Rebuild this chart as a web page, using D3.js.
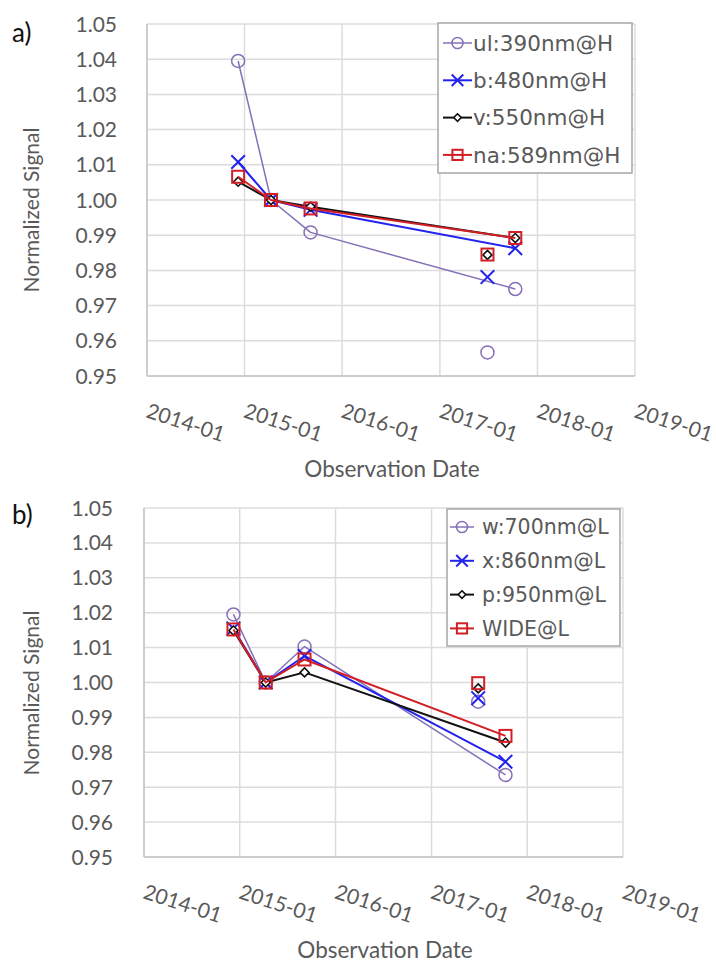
<!DOCTYPE html>
<html>
<head>
<meta charset="utf-8">
<script src="https://cdn.jsdelivr.net/npm/d3@7"></script>
<style>
  body { margin: 0; background: #fff; }
  svg { display: block; }
  text { font-family: Lato, "Open Sans", sans-serif; fill: #595959; }
  .legend text { font-family: "DejaVu Sans", sans-serif; }
</style>
</head>
<body>
<svg class="graphic"></svg>
<script>
// observation dates joined by the lines, and the one date shown as loose markers
var lineDates = ["2014-12-08", "2015-04-10", "2015-09-05", "2017-10-10"];
var looseDate = "2017-06-28";

var yTicks = [0.95, 0.96, 0.97, 0.98, 0.99, 1.00, 1.01, 1.02, 1.03, 1.04, 1.05];
var xTicks = ["2014-01", "2015-01", "2016-01", "2017-01", "2018-01", "2019-01"];

// panel a) - H filters
var namesA = ["ul:390nm@H", "b:480nm@H", "v:550nm@H", "na:589nm@H"];
var ulH = [1.0395, 1.0000, 0.9908, 0.9747];
var bH  = [1.0108, 1.0000, 0.9972, 0.9863];
var vH  = [1.0052, 1.0000, 0.9981, 0.9892];
var naH = [1.0066, 1.0000, 0.9976, 0.9892];
var looseA = [0.9567, 0.9781, 0.9844, 0.9845];

// panel b) - L filters
var namesB = ["w:700nm@L", "x:860nm@L", "p:950nm@L", "WIDE@L"];
var wL    = [1.0195, 1.0000, 1.0103, 0.9735];
var xL    = [1.0155, 1.0000, 1.0076, 0.9773];
var pL    = [1.0149, 1.0000, 1.0029, 0.9828];
var wideL = [1.0152, 1.0000, 1.0066, 0.9847];
var looseB = [0.9945, 0.9955, 0.9983, 0.9998];

var colours = ["#8470b8", "#2323ee", "#111111", "#d21f26"],
    markers = ["circle", "cross", "diamond", "square"],
    widths = [1.5, 2, 2, 2];

var parseDate = d3.timeParse("%Y-%m-%d"),
    parseMonth = d3.timeParse("%Y-%m"),
    formatMonth = d3.timeFormat("%Y-%m");

var panels = [
  { label: "a)", names: namesA, series: [ulH, bH, vH, naH], loose: looseA,
    left: 147, right: 635, top: 24, bottom: 376, tickX: 117, titleY: 210, xTitleY: 477, xTitleX: 392, labelY: 42,
    legend: { x: 438, y: 23, w: 194, h: 150, first: 43, step: 37.3, lx1: 443, lx2: 472, tx: 473, size: 21.5 } },
  { label: "b)", names: namesB, series: [wL, xL, pL, wideL], loose: looseB,
    left: 144, right: 623, top: 508, bottom: 857, tickX: 113, titleY: 693, xTitleY: 958, xTitleX: 385, labelY: 524,
    legend: { x: 447, y: 509, w: 173, h: 137, first: 527, step: 33.8, lx1: 450, lx2: 474, tx: 482, size: 20.5 } }
];

var svg = d3.select(".graphic")
    .attr("width", 716)
    .attr("height", 963);

function drawMarker(g, type, colour, size) {
    var s = size || 1;
    if (type === "circle") {
        g.append("circle").attr("r", 6.5 * s)
            .attr("fill", "none").attr("stroke", colour).attr("stroke-width", 1.5);
    } else if (type === "cross") {
        var c = 6.8 * s;
        g.append("path").attr("d", "M" + (-c) + "," + (-c) + "L" + c + "," + c + "M" + (-c) + "," + c + "L" + c + "," + (-c))
            .attr("stroke", colour).attr("stroke-width", 2).attr("fill", "none");
    } else if (type === "diamond") {
        var d = 4.5 * s;
        g.append("path").attr("d", "M0," + (-d) + "L" + d + ",0L0," + d + "L" + (-d) + ",0Z")
            .attr("fill", "#fff").attr("stroke", colour).attr("stroke-width", 1.6);
    } else {
        var q = 6 * s;
        g.append("rect").attr("x", -q).attr("y", -q).attr("width", q * 2).attr("height", q * 2)
            .attr("fill", "none").attr("stroke", colour).attr("stroke-width", 2);
    }
}

function drawPanel(p) {
    var x = d3.scaleTime()
        .domain([parseMonth(xTicks[0]), parseMonth(xTicks[xTicks.length - 1])])
        .range([p.left, p.right]);
    var y = d3.scaleLinear()
        .domain([yTicks[0], yTicks[yTicks.length - 1]])
        .range([p.bottom, p.top]);

    var g = svg.append("g");

    // grid lines
    g.selectAll(".hgrid").data(yTicks).enter().append("line")
        .attr("x1", p.left).attr("x2", p.right)
        .attr("y1", function(d) { return y(d); }).attr("y2", function(d) { return y(d); })
        .attr("stroke", "#dcdcdc").attr("stroke-width", 1.5);
    g.selectAll(".vgrid").data(xTicks).enter().append("line")
        .attr("x1", function(d) { return x(parseMonth(d)); }).attr("x2", function(d) { return x(parseMonth(d)); })
        .attr("y1", p.top).attr("y2", p.bottom)
        .attr("stroke", "#dcdcdc").attr("stroke-width", 1.5);

    // axis lines
    g.append("line").attr("x1", p.left).attr("x2", p.left).attr("y1", p.top).attr("y2", p.bottom)
        .attr("stroke", "#c4c4c4").attr("stroke-width", 1.5);
    g.append("line").attr("x1", p.left).attr("x2", p.right).attr("y1", p.bottom).attr("y2", p.bottom)
        .attr("stroke", "#c4c4c4").attr("stroke-width", 1.5);

    // tick labels
    g.selectAll(".ylab").data(yTicks).enter().append("text")
        .attr("x", p.tickX).attr("y", function(d) { return y(d); })
        .attr("dy", "0.36em").attr("text-anchor", "end")
        .style("font-size", "21px")
        .text(function(d) { return d.toFixed(2); });
    g.selectAll(".xlab").data(xTicks).enter().append("text")
        .attr("text-anchor", "start")
        .attr("transform", function(d) { return "translate(" + (x(parseMonth(d)) - 2) + "," + (p.bottom + 41) + ") rotate(18)"; })
        .style("font-size", "21px")
        .text(function(d) { return formatMonth(parseMonth(d)); });

    // titles
    g.append("text").attr("x", p.xTitleX).attr("y", p.xTitleY).attr("text-anchor", "middle")
        .style("font-size", "22.5px").text("Observation Date");
    g.append("text").attr("transform", "translate(39," + p.titleY + ") rotate(-90)")
        .attr("text-anchor", "middle").style("font-size", "21px").text("Normalized Signal");
    g.append("text").attr("x", 12).attr("y", p.labelY)
        .style("font-size", "26px").style("fill", "#111").text(p.label);

    // series
    var line = d3.line()
        .x(function(d, i) { return x(parseDate(lineDates[i])); })
        .y(function(d) { return y(d); });

    p.series.forEach(function(values, s) {
        g.append("path").datum(values)
            .attr("d", line)
            .attr("fill", "none")
            .attr("stroke", colours[s])
            .attr("stroke-width", widths[s])
            .attr("stroke-linejoin", "round");
        values.forEach(function(v, i) {
            var m = g.append("g").attr("transform", "translate(" + x(parseDate(lineDates[i])) + "," + y(v) + ")");
            drawMarker(m, markers[s], colours[s]);
        });
        var lm = g.append("g").attr("transform", "translate(" + x(parseDate(looseDate)) + "," + y(p.loose[s]) + ")");
        drawMarker(lm, markers[s], colours[s]);
    });

    // legend
    var L = p.legend;
    var lg = g.append("g").attr("class", "legend");
    lg.append("rect").attr("x", L.x).attr("y", L.y).attr("width", L.w).attr("height", L.h)
        .attr("fill", "#fff").attr("stroke", "#a6a6a6").attr("stroke-width", 1.5);
    var entry = lg.selectAll(".entry").data(p.names).enter().append("g")
        .attr("transform", function(d, i) { return "translate(0," + (L.first + i * L.step) + ")"; });
    entry.append("line").attr("x1", L.lx1).attr("x2", L.lx2)
        .attr("stroke", function(d, i) { return colours[i]; })
        .attr("stroke-width", function(d, i) { return widths[i]; });
    entry.each(function(d, i) {
        var m = d3.select(this).append("g").attr("transform", "translate(" + ((L.lx1 + L.lx2) / 2) + ",0)");
        drawMarker(m, markers[i], colours[i], 0.85);
    });
    entry.append("text").attr("x", L.tx).attr("dy", "0.36em")
        .style("font-size", L.size + "px")
        .text(function(d) { return d; });
}

panels.forEach(drawPanel);
</script>
</body>
</html>
